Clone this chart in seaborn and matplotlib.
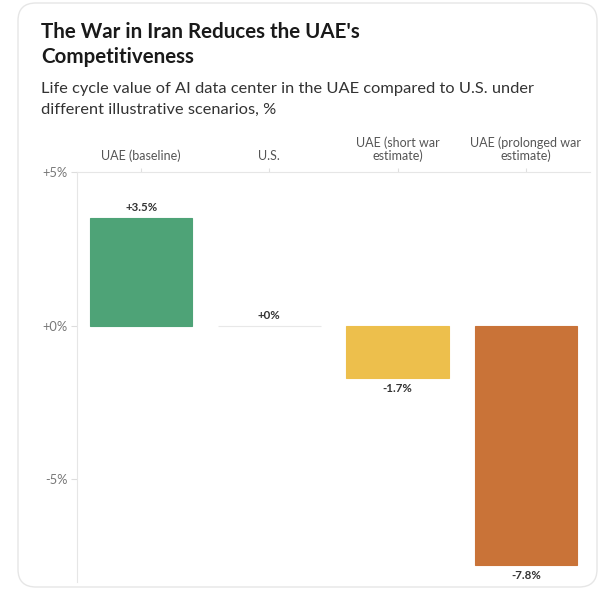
import matplotlib
matplotlib.use("Agg")
import matplotlib.pyplot as plt
import seaborn as sns
import pandas as pd
from matplotlib.patches import FancyBboxPatch

categories = ["UAE (baseline)", "U.S.", "UAE (short war\nestimate)", "UAE (prolonged war\nestimate)"]
values = [3.5, 0.0, -1.7, -7.8]
value_labels = ["+3.5%", "+0%", "-1.7%", "-7.8%"]
colors = ["#4EA377", "#E8E8E8", "#EDBF4C", "#C97338"]
y_ticks = [-5, 0, 5]
y_tick_labels = ["-5%", "+0%", "+5%"]

sns.set_theme(style="white")
plt.rcParams["font.family"] = ["Lato", "DejaVu Sans"]

fig = plt.figure(figsize=(6.0, 5.9), dpi=100)
W, H = 600, 590

card = FancyBboxPatch((18 / W, 3 / H), 579 / W, 584 / H,
                      boxstyle="round,pad=0,rounding_size=0.03",
                      transform=fig.transFigure, facecolor="white",
                      edgecolor="#E6E6E6", linewidth=1.0, zorder=-5)
fig.patches.append(card)

fig.text(41 / W, 1 - 32 / H, "The War in Iran Reduces the UAE's",
         fontsize=14.8, fontweight="bold", color="#1a1a1a", va="center", ha="left")
fig.text(41 / W, 1 - 57 / H, "Competitiveness",
         fontsize=14.8, fontweight="bold", color="#1a1a1a", va="center", ha="left")
fig.text(41 / W, 1 - 89 / H,
         "Life cycle value of AI data center in the UAE compared to U.S. under",
         fontsize=11.8, color="#333333", va="center", ha="left")
fig.text(41 / W, 1 - 110 / H, "different illustrative scenarios, %",
         fontsize=11.8, color="#333333", va="center", ha="left")

ax = fig.add_axes([77 / W, 1 - 582 / H, (590 - 77) / W, (582 - 172) / H])
ax.set_facecolor("none")
ax.set_zorder(2)

df = pd.DataFrame({"category": categories, "value": values})
sns.barplot(data=df, x="category", y="value", hue="category", palette=colors,
            legend=False, width=0.8, ax=ax, saturation=1)

for i, bar in enumerate(ax.patches):
    bar.set_edgecolor(colors[i])
    bar.set_linewidth(0.8)

ax.set_xlim(-0.5, 3.5)
ax.set_ylim(-8.35, 5)

for i, (v, lab) in enumerate(zip(values, value_labels)):
    if v >= 0:
        ax.annotate(lab, (i, v), xytext=(0, 3.5), textcoords="offset points",
                    ha="center", va="bottom", fontsize=8.3, fontweight="bold", color="#333333")
    else:
        ax.annotate(lab, (i, v), xytext=(0, -3.5), textcoords="offset points",
                    ha="center", va="top", fontsize=8.3, fontweight="bold", color="#333333")

ax.xaxis.tick_top()
ax.xaxis.set_label_position("top")
ax.set_xlabel("")
ax.set_ylabel("")
ax.set_yticks(y_ticks)
ax.set_yticklabels(y_tick_labels)
ax.tick_params(axis="y", labelsize=9.3, labelcolor="#777777", color="#DDDDDD",
               length=4, width=0.8, left=True, pad=3)
ax.tick_params(axis="x", labelsize=9, labelcolor="#555555", color="#E0E0E0",
               length=3, width=0.8, top=True, bottom=False, pad=4)
for t in ax.get_xticklabels():
    t.set_linespacing(1.1)

for s in ["right", "bottom"]:
    ax.spines[s].set_visible(False)
ax.spines["left"].set_color("#E6E6E6")
ax.spines["top"].set_color("#E6E6E6")
ax.spines["left"].set_linewidth(0.8)
ax.spines["top"].set_linewidth(0.8)

fig.savefig("out.png", dpi=100)
